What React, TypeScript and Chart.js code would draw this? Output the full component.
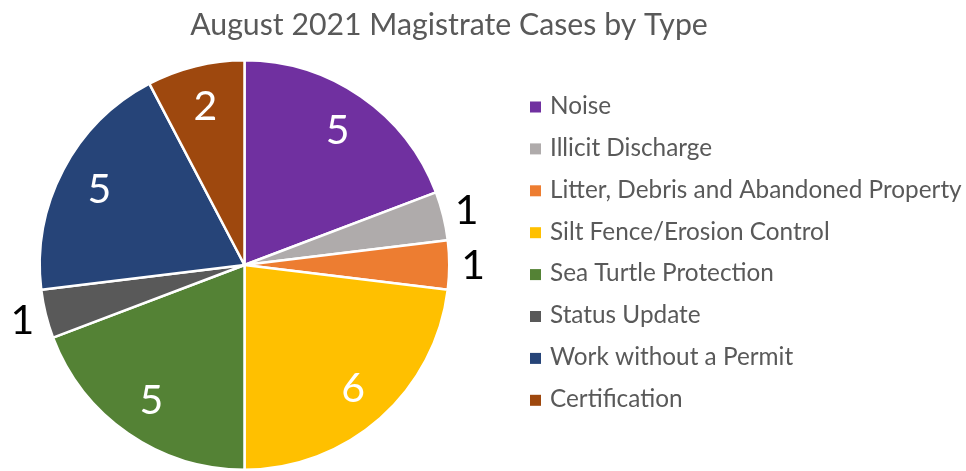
import React, { useEffect, useRef } from "react";
import { Chart, registerables } from "chart.js";

Chart.register(...registerables);

const title = "August 2021 Magistrate Cases by Type";
const categories = [
  "Noise",
  "Illicit Discharge",
  "Litter, Debris and Abandoned Property",
  "Silt Fence/Erosion Control",
  "Sea Turtle Protection",
  "Status Update",
  "Work without a Permit",
  "Certification",
];
const values = [5, 1, 1, 6, 5, 1, 5, 2];
const colors = [
  "#7030A0",
  "#AFABAB",
  "#ED7D31",
  "#FFC000",
  "#548235",
  "#595959",
  "#264478",
  "#9E480E",
];

const FONT = "Lato, 'Liberation Sans', sans-serif";

function fitSize(ctx: CanvasRenderingContext2D, text: string, target: number, weight = "400") {
  ctx.font = `${weight} 100px ${FONT}`;
  const w = ctx.measureText(text).width;
  return (100 * target) / w;
}

const decorPlugin = {
  id: "decor",
  afterDraw(chart: any) {
    const ctx: CanvasRenderingContext2D = chart.ctx;
    ctx.save();
    // Title
    const ts = fitSize(ctx, title, 518);
    ctx.font = `400 ${ts}px ${FONT}`;
    ctx.fillStyle = "#595959";
    ctx.textAlign = "center";
    ctx.textBaseline = "alphabetic";
    ctx.fillText(title, 449, 35);

    // Legend
    const longest = categories.reduce((a, b) => (b.length > a.length ? b : a), "");
    const ls = fitSize(ctx, longest, 412);
    ctx.font = `400 ${ls}px ${FONT}`;
    ctx.textAlign = "left";
    ctx.textBaseline = "middle";
    const x0 = 530;
    const y0 = 107;
    const step = 41.9;
    categories.forEach((c, i) => {
      const y = y0 + i * step;
      ctx.fillStyle = colors[i];
      ctx.fillRect(x0, y - 5.5, 11, 11);
      ctx.fillStyle = "#595959";
      ctx.fillText(c, x0 + 20, y - 1);
    });

    // Data labels
    const meta = chart.getDatasetMeta(0);
    ctx.textAlign = "center";
    ctx.textBaseline = "middle";
    const total = values.reduce((a, b) => a + b, 0);
    meta.data.forEach((arc: any, i: number) => {
      const { x, y, startAngle, endAngle, outerRadius } = arc.getProps(
        ["x", "y", "startAngle", "endAngle", "outerRadius"],
        true
      );
      const mid = (startAngle + endAngle) / 2;
      const small = values[i] / total < 0.06;
      const r = small ? outerRadius + 24 : outerRadius * 0.8;
      const lx = x + Math.cos(mid) * r;
      const ly = y + Math.sin(mid) * r;
      ctx.font = `400 41px ${FONT}`;
      ctx.fillStyle = small ? "#000000" : "#FFFFFF";
      ctx.fillText(String(values[i]), lx, ly + 1);
    });
    ctx.restore();
  },
};

export default function App() {
  const ref = useRef<HTMLCanvasElement>(null);
  useEffect(() => {
    if (!ref.current) return;
    const chart = new Chart(ref.current, {
      type: "pie",
      data: {
        labels: categories,
        datasets: [
          {
            data: values,
            backgroundColor: colors,
            borderColor: "#FFFFFF",
            borderWidth: 2.5,
          },
        ],
      },
      options: {
        animation: false,
        responsive: false,
        layout: { padding: { left: 38, right: 515, top: 59, bottom: 0 } },
        plugins: {
          legend: { display: false },
          title: { display: false },
          tooltip: { enabled: false },
        },
      },
      plugins: [decorPlugin],
    });
    return () => chart.destroy();
  }, []);
  return (
    <div style={{ position: "fixed", left: 0, top: 0, width: 966, height: 471, background: "#fff" }}>
      <canvas ref={ref} width={966} height={471} style={{ display: "block" }} />
    </div>
  );
}
